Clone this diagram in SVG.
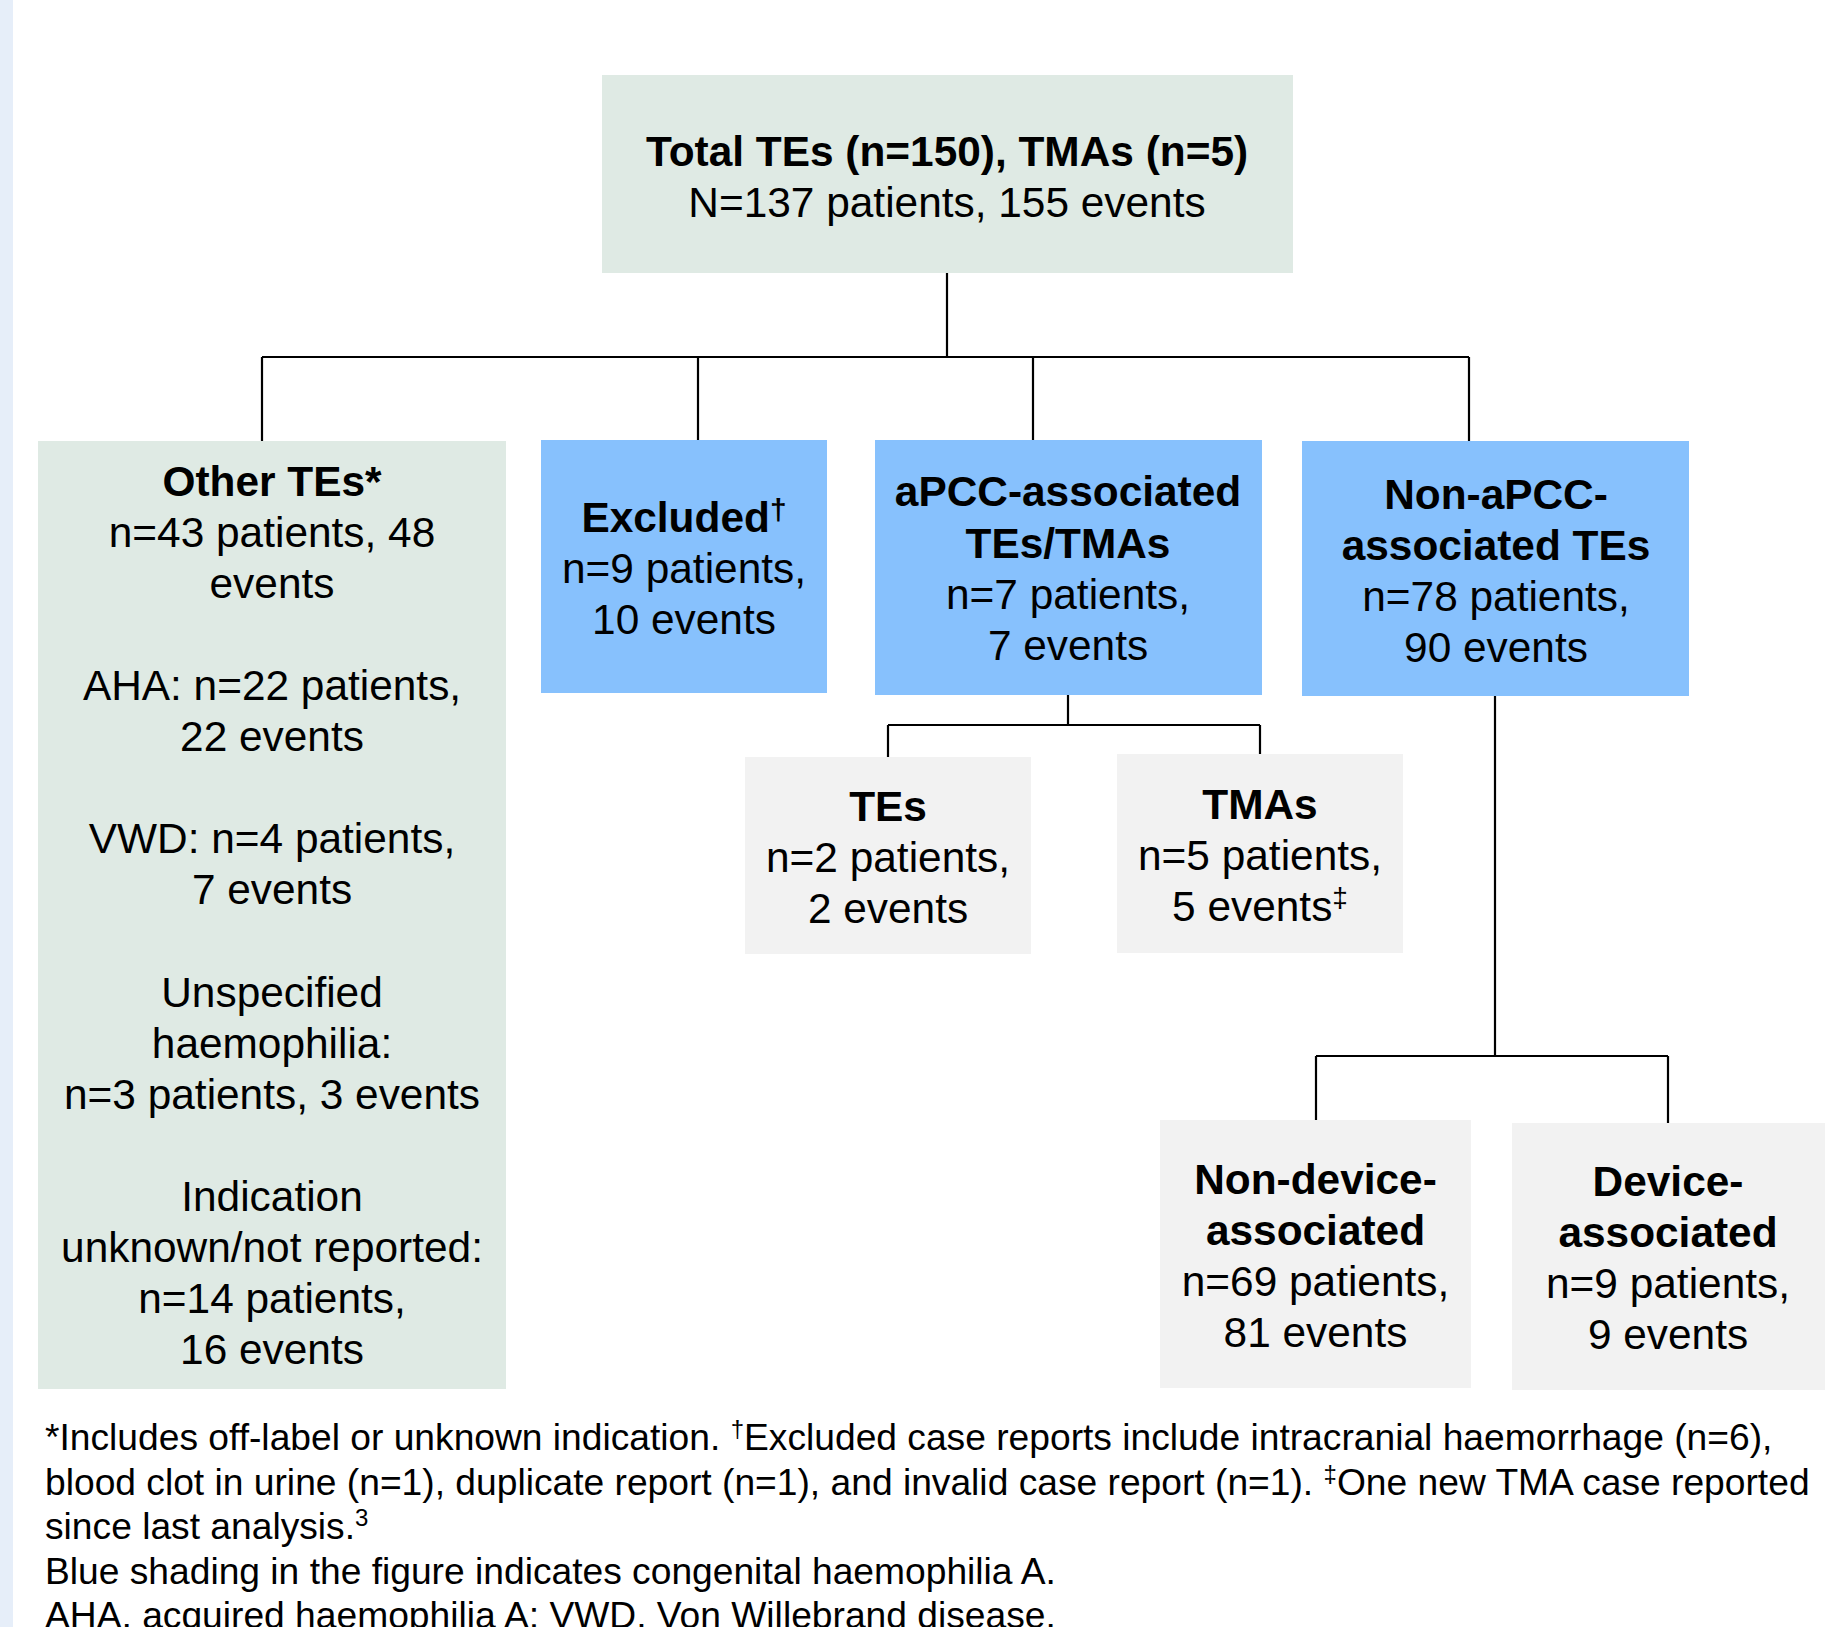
<svg xmlns="http://www.w3.org/2000/svg" width="1845" height="1627" viewBox="0 0 1845 1627">
<style>
text{font-family:"Liberation Sans",Arial,Helvetica,sans-serif;fill:#000;}
.n{font-size:42.4px;text-anchor:middle;}
.b{font-weight:bold;}
.g{fill:#dfeae4;}
.bl{fill:#87c1fd;}
.gr{fill:#f2f2f2;}
.c{stroke:#000;stroke-width:2.2;fill:none;}
.fn{font-size:37.2px;}
.sup{font-size:24px;}
</style>
<rect x="0" y="0" width="1845" height="1627" fill="#ffffff"/>
<rect x="0" y="0" width="13" height="1627" fill="#e6eef9"/>
<g id="connectors">
<path class="c" d="M947,273 V357 M262,357 H1469 M262,357 V441 M698,357 V440 M1033,357 V440 M1469,357 V441"/>
<path class="c" d="M1068,695 V725 M888,725 H1260 M888,725 V757 M1260,725 V754"/>
<path class="c" d="M1495,695 V1056 M1316,1056 H1668 M1316,1056 V1120 M1668,1056 V1123"/>
</g>
<g id="total">
<rect class="g" x="602" y="75" width="691" height="198"/>
<text class="n b" x="947" y="166">Total TEs (n=150), TMAs (n=5)</text>
<text class="n" x="947" y="217">N=137 patients, 155 events</text>
</g>
<g id="other">
<rect class="g" x="38" y="441" width="468" height="948"/>
<text class="n b" x="272" y="495.5">Other TEs*</text>
<text class="n" x="272" y="546.6">n=43 patients, 48</text>
<text class="n" x="272" y="597.7">events</text>
<text class="n" x="272" y="699.9">AHA: n=22 patients,</text>
<text class="n" x="272" y="751">22 events</text>
<text class="n" x="272" y="853.2">VWD: n=4 patients,</text>
<text class="n" x="272" y="904.3">7 events</text>
<text class="n" x="272" y="1006.5">Unspecified</text>
<text class="n" x="272" y="1057.6">haemophilia:</text>
<text class="n" x="272" y="1108.7">n=3 patients, 3 events</text>
<text class="n" x="272" y="1210.9">Indication</text>
<text class="n" x="272" y="1262">unknown/not reported:</text>
<text class="n" x="272" y="1313.1">n=14 patients,</text>
<text class="n" x="272" y="1364.2">16 events</text>
</g>
<g id="excluded">
<rect class="bl" x="541" y="440" width="286" height="253"/>
<text class="n b" x="684" y="531.5">Excluded<tspan font-size="30" dy="-12">†</tspan></text>
<text class="n" x="684" y="582.5">n=9 patients,</text>
<text class="n" x="684" y="633.5">10 events</text>
</g>
<g id="apcc">
<rect class="bl" x="875" y="440" width="387" height="255"/>
<text class="n b" x="1068" y="506">aPCC-associated</text>
<text class="n b" x="1068" y="557.5">TEs/TMAs</text>
<text class="n" x="1068" y="609">n=7 patients,</text>
<text class="n" x="1068" y="660">7 events</text>
</g>
<g id="nonapcc">
<rect class="bl" x="1302" y="441" width="387" height="255"/>
<text class="n b" x="1496" y="508.5">Non-aPCC-</text>
<text class="n b" x="1496" y="560">associated TEs</text>
<text class="n" x="1496" y="611">n=78 patients,</text>
<text class="n" x="1496" y="662">90 events</text>
</g>
<g id="tes">
<rect class="gr" x="745" y="757" width="286" height="197"/>
<text class="n b" x="888" y="821">TEs</text>
<text class="n" x="888" y="872">n=2 patients,</text>
<text class="n" x="888" y="923">2 events</text>
</g>
<g id="tmas">
<rect class="gr" x="1117" y="754" width="286" height="199"/>
<text class="n b" x="1260" y="819">TMAs</text>
<text class="n" x="1260" y="870">n=5 patients,</text>
<text class="n" x="1260" y="921">5 events<tspan font-size="28" dy="-14">‡</tspan></text>
</g>
<g id="nondevice">
<rect class="gr" x="1160" y="1120" width="311" height="268"/>
<text class="n b" x="1315.5" y="1194">Non-device-</text>
<text class="n b" x="1315.5" y="1245">associated</text>
<text class="n" x="1315.5" y="1296">n=69 patients,</text>
<text class="n" x="1315.5" y="1347">81 events</text>
</g>
<g id="device">
<rect class="gr" x="1512" y="1123" width="313" height="267"/>
<text class="n b" x="1668" y="1196">Device-</text>
<text class="n b" x="1668" y="1247">associated</text>
<text class="n" x="1668" y="1298">n=9 patients,</text>
<text class="n" x="1668" y="1349">9 events</text>
</g>
<g id="footnote">
<text class="fn" x="45" y="1450">*Includes off-label or unknown indication. <tspan class="sup" dy="-13">†</tspan><tspan dy="13">Excluded case reports include intracranial haemorrhage (n=6),</tspan></text>
<text class="fn" x="45" y="1494.5">blood clot in urine (n=1), duplicate report (n=1), and invalid case report (n=1). <tspan class="sup" dy="-13">‡</tspan><tspan dy="13">One new TMA case reported</tspan></text>
<text class="fn" x="45" y="1539">since last analysis.<tspan class="sup" dy="-13">3</tspan></text>
<text class="fn" x="45" y="1583.5">Blue shading in the figure indicates congenital haemophilia A.</text>
<text class="fn" x="45" y="1628">AHA, acquired haemophilia A; VWD, Von Willebrand disease.</text>
</g>
</svg>
